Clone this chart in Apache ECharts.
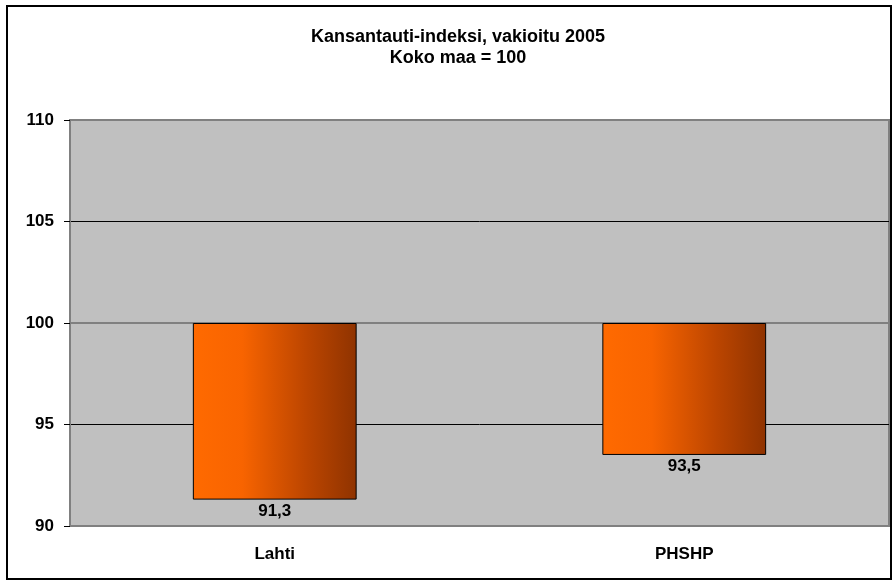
<!DOCTYPE html>
<html>
<head>
<meta charset="utf-8">
<script src="https://cdn.jsdelivr.net/npm/echarts@6/dist/echarts.min.js"></script>
<style>
  html, body { margin: 0; padding: 0; background: #fff; }
  #chart { width: 894px; height: 581px; }
</style>
</head>
<body>
<div id="chart"></div>
<script>
// data
var categories = ['Lahti', 'PHSHP'];
var indexValues = [91.3, 93.5];
var baseLine = 100;
var yTicks = [90, 95, 100, 105, 110];

// bars hang down from 100: an invisible stack part up to the value, then the visible part up to 100
var hiddenPart = [];
var visiblePart = [];
for (var i = 0; i < indexValues.length; i++) {
  hiddenPart.push(indexValues[i]);
  visiblePart.push(+(baseLine - indexValues[i]).toFixed(1));
}

var font = 'Liberation Sans, Arial, sans-serif';
var chart = echarts.init(document.getElementById('chart'));
chart.setOption({
  animation: false,
  backgroundColor: '#fff',
  title: {
    text: 'Kansantauti-indeksi, vakioitu 2005\nKoko maa = 100',
    left: 453,
    top: 22,
    textAlign: 'center',
    textStyle: { fontFamily: font, fontSize: 18, fontWeight: 'bold', color: '#000', lineHeight: 21 }
  },
  graphic: [{
    type: 'rect',
    shape: { x: 7, y: 6, width: 884, height: 573 },
    style: { fill: 'none', stroke: '#000', lineWidth: 2 },
    z: 100
  }],
  grid: {
    left: 70, right: 5, top: 120, bottom: 55,
    show: true,
    backgroundColor: '#c0c0c0',
    borderColor: '#808080',
    borderWidth: 2
  },
  xAxis: {
    type: 'category',
    data: categories,
    axisLine: { show: false },
    axisTick: { show: false },
    axisLabel: { fontFamily: font, fontSize: 17, fontWeight: 'bold', color: '#000', margin: 20 }
  },
  yAxis: {
    type: 'value',
    min: yTicks[0],
    max: yTicks[yTicks.length - 1],
    interval: 5,
    axisLine: { show: true, lineStyle: { color: '#808080', width: 2 } },
    axisTick: { show: true, length: 6, lineStyle: { color: '#000' } },
    axisLabel: { fontFamily: font, fontSize: 17, fontWeight: 'bold', color: '#000', margin: 16 },
    splitLine: {
      show: true,
      lineStyle: { color: ['#808080', '#000', '#808080', '#000', '#808080'], width: 1 }
    }
  },
  series: [
    {
      type: 'bar',
      stack: 'idx',
      data: hiddenPart,
      barWidth: '40%',
      itemStyle: { color: 'transparent' },
      silent: true
    },
    {
      type: 'bar',
      stack: 'idx',
      data: visiblePart,
      barWidth: '40%',
      itemStyle: {
        color: new echarts.graphic.LinearGradient(0, 0, 1, 0, [
          { offset: 0, color: '#ff6a00' },
          { offset: 0.3, color: '#f86400' },
          { offset: 0.7, color: '#bb4500' },
          { offset: 1, color: '#8f3300' }
        ]),
        borderColor: '#000',
        borderWidth: 1
      },
      label: {
        show: true,
        position: 'bottom',
        distance: 3,
        fontFamily: font,
        fontSize: 17,
        fontWeight: 'bold',
        color: '#000',
        formatter: function (p) {
          return String(indexValues[p.dataIndex]).replace('.', ',');
        }
      },
      markLine: {
        silent: true,
        symbol: 'none',
        label: { show: false },
        lineStyle: { color: '#808080', width: 2, type: 'solid' },
        data: [{ yAxis: baseLine }],
        z: 1
      }
    }
  ]
});
</script>
</body>
</html>
